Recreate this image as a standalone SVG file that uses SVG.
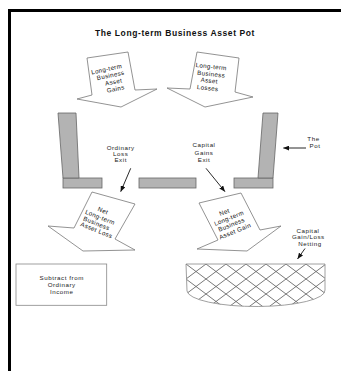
<svg xmlns="http://www.w3.org/2000/svg" width="341" height="371" viewBox="0 0 341 371">
<defs>
<style>
.t{font-family:"Liberation Sans",Arial,sans-serif;fill:#222;text-anchor:middle}
.title{font-size:8.5px;font-weight:bold;letter-spacing:0.6px;fill:#111}
.lbl{font-size:6.2px;letter-spacing:0.55px}
.at{font-size:6.2px;letter-spacing:0.35px;fill:#111}
.arr{fill:#fff;stroke:#777;stroke-width:0.8}
.slab{fill:#b3b3b3;stroke:#666;stroke-width:0.8}
.ptr{fill:none;stroke:#111;stroke-width:0.9;marker-end:url(#ah)}
</style>
<marker id="ah" viewBox="0 0 6 5" refX="6" refY="2.5" markerWidth="6" markerHeight="5" markerUnits="userSpaceOnUse" orient="auto">
<path d="M0,0 L6,2.5 L0,5 z" fill="#111"/>
</marker>
<pattern id="hatch" patternUnits="userSpaceOnUse" x="186" y="264" width="20" height="15">
<path d="M0,0 L20,15 M20,0 L0,15" stroke="#555" stroke-width="0.8" fill="none"/>
</pattern>
</defs>
<rect width="341" height="371" fill="#fff"/>
<path d="M9.5,371 V10.5 H341" fill="none" stroke="#000" stroke-width="3"/>
<text class="t title" x="175" y="36">The Long-term Business Asset Pot</text>

<g id="arrow-gains">
<polygon class="arr" points="87,58 128,52 135,90 157,89 121,107 77,99 92,95"/>
<text class="t at" transform="translate(107,71.2) rotate(-12)">Long-term</text>
<text class="t at" transform="translate(111,77.4) rotate(-12)">Business</text>
<text class="t at" transform="translate(114,84) rotate(-12)">Asset</text>
<text class="t at" transform="translate(116,91) rotate(-12)">Gains</text>
</g>

<g id="arrow-losses">
<polygon class="arr" points="197,52 239,58 235,92 253,97 205,107 167,88 190,89"/>
<text class="t at" transform="translate(211,68.7) rotate(6)">Long-term</text>
<text class="t at" transform="translate(211,76.2) rotate(6)">Business</text>
<text class="t at" transform="translate(209,82.7) rotate(6)">Asset</text>
<text class="t at" transform="translate(207.5,90.2) rotate(6)">Losses</text>
</g>

<g id="pot">
<rect class="slab" x="63" y="178" width="39" height="10"/>
<polygon class="slab" points="58,113 76,113 79,178 63,178"/>
<rect class="slab" x="139" y="178" width="57" height="10"/>
<rect class="slab" x="234" y="178" width="39" height="10"/>
<polygon class="slab" points="263,113 278,113 273,178 258,178"/>
</g>

<g id="label-ordinary-exit">
<text class="t lbl" x="120.7" y="149.8">Ordinary</text>
<text class="t lbl" x="120.7" y="156">Loss</text>
<text class="t lbl" x="120.7" y="162.4">Exit</text>
</g>
<g id="label-capital-exit">
<text class="t lbl" x="204" y="147.2">Capital</text>
<text class="t lbl" x="204" y="154.8">Gains</text>
<text class="t lbl" x="204" y="161.8">Exit</text>
</g>
<g id="label-pot">
<text class="t lbl" x="313.5" y="140.6">The</text>
<text class="t lbl" x="315" y="148.4">Pot</text>
</g>

<g id="arrow-net-loss">
<polygon class="arr" points="92,192 135,204 115,239 135,250 83,251 48,226 74,228"/>
<text class="t at" transform="translate(102.2,212.6) rotate(22)">Net</text>
<text class="t at" transform="translate(99.2,219.3) rotate(22)">Long-term</text>
<text class="t at" transform="translate(95.7,225.4) rotate(22)">Business</text>
<text class="t at" transform="translate(95.7,232.1) rotate(22)">Asset Loss</text>
</g>

<g id="arrow-net-gain">
<polygon class="arr" points="199,203 241,193 260,230 281,226 247,251 197,249 218,240"/>
<text class="t at" transform="translate(225.2,214.1) rotate(-22)">Net</text>
<text class="t at" transform="translate(229.8,220.1) rotate(-22)">Long-term</text>
<text class="t at" transform="translate(232.3,226.6) rotate(-22)">Business</text>
<text class="t at" transform="translate(235.8,233.1) rotate(-22)">Asset Gain</text>
</g>

<g id="label-netting">
<text class="t lbl" x="308" y="232.6">Capital</text>
<text class="t lbl" x="308.3" y="238.9">Gain/Loss</text>
<text class="t lbl" x="310" y="245.6">Netting</text>
</g>

<g id="subtract-box">
<rect x="16" y="264" width="90.7" height="41.3" fill="#fff" stroke="#888" stroke-width="0.8"/>
<text class="t lbl" x="61.7" y="280.4">Subtract from</text>
<text class="t lbl" x="61.7" y="287.1">Ordinary</text>
<text class="t lbl" x="61.7" y="293.8">Income</text>
</g>

<g id="netting-bowl">
<path d="M186,264 H325 V290 A69,16 0 0 1 187,291 Z" fill="url(#hatch)" stroke="#888" stroke-width="0.8"/>
</g>

<g id="connectors">
<line class="ptr" x1="130.7" y1="168.3" x2="120.7" y2="191.7"/>
<line class="ptr" x1="206" y1="168.3" x2="225" y2="191.7"/>
<line class="ptr" x1="306" y1="148" x2="283.3" y2="148"/>
<line class="ptr" x1="305" y1="248.5" x2="297.5" y2="259"/>
</g>
</svg>
